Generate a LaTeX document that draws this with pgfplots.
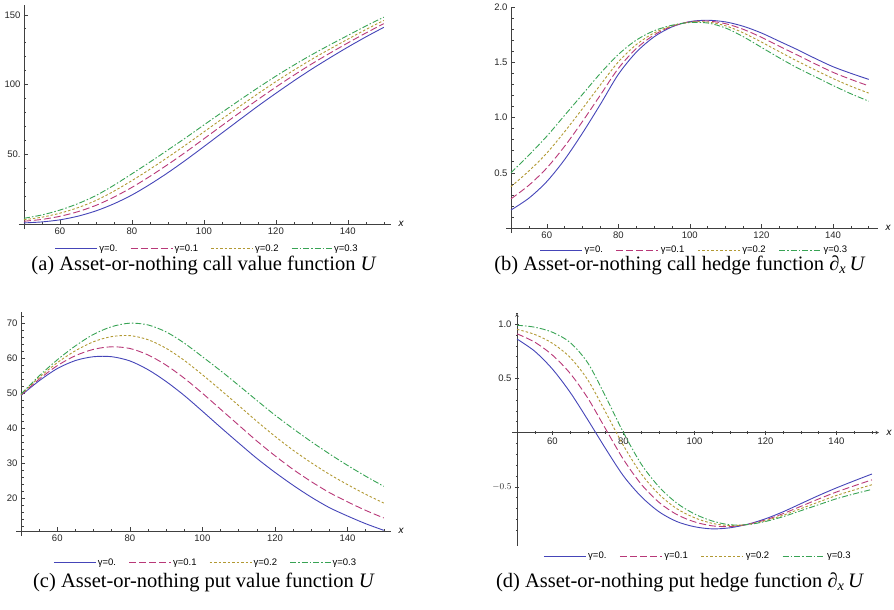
\documentclass[border=0pt]{standalone}
\usepackage{pgfplots}
\pgfplotsset{compat=1.18}
\usepackage{pgfplotstable}
\usepackage{fontspec}
\setmainfont{Liberation Sans}
\newfontfamily\capfont{Liberation Serif}
\definecolor{c1}{rgb}{0.27,0.27,0.72}
\definecolor{c2}{rgb}{0.72,0.22,0.47}
\definecolor{c3}{rgb}{0.70,0.60,0.20}
\definecolor{c4}{rgb}{0.22,0.64,0.33}

\pgfplotstableread{
x b m g r
50 0.8 1.99 3.04 4.1
55 1.5 3.3 4.9 6.5
60 3.0 5.52 7.76 10.0
65 5.6 8.84 11.72 14.6
70 9.4 13.36 16.88 20.4
75 14.5 19.29 23.54 27.8
80 20.8 26.27 31.14 36.0
85 28.4 34.16 39.28 44.4
90 36.8 42.67 47.88 53.1
95 45.9 51.66 56.78 61.9
100 55.5 61.08 66.04 71.0
105 65.2 70.53 75.26 80.0
110 74.9 79.94 84.42 88.9
115 84.5 89.22 93.41 97.6
120 93.7 98.13 102.06 106.0
125 102.6 106.67 110.28 113.9
130 111.1 114.81 118.1 121.4
135 119.1 122.45 125.42 128.4
140 126.8 129.82 132.51 135.2
145 134.1 136.91 139.4 141.9
150 141.0 143.63 145.96 148.3
}\tabA

\pgfplotstableread{
x b m g r
50 0.163 0.264 0.375 0.50
55 0.27 0.387 0.516 0.66
60 0.42 0.543 0.678 0.83
65 0.62 0.74 0.872 1.02
70 0.86 0.965 1.081 1.21
75 1.12 1.204 1.296 1.40
80 1.39 1.444 1.503 1.57
85 1.59 1.623 1.659 1.70
90 1.73 1.747 1.765 1.785
95 1.82 1.825 1.829 1.835
100 1.868 1.866 1.863 1.86
105 1.88 1.873 1.864 1.855
110 1.865 1.849 1.830 1.81
115 1.825 1.797 1.765 1.73
120 1.765 1.726 1.683 1.635
125 1.69 1.645 1.596 1.54
130 1.615 1.566 1.511 1.45
135 1.535 1.486 1.431 1.37
140 1.46 1.409 1.353 1.29
145 1.40 1.345 1.283 1.215
150 1.345 1.286 1.221 1.148
}\tabB

\pgfplotstableread{
x b m g r
50 49.4 49.53 49.67 49.8
55 53.6 54.06 54.54 55.0
60 57.1 57.93 58.78 59.6
65 59.4 60.79 62.21 63.6
70 60.5 62.61 64.79 66.9
75 60.5 63.34 66.26 69.1
80 59.3 62.86 66.54 70.1
85 56.8 61.02 65.38 69.6
90 53.4 58.09 62.91 67.6
95 49.4 54.35 59.45 64.4
100 44.9 50.05 55.35 60.5
105 40.3 45.48 50.99 56.5
110 35.8 40.92 46.53 52.3
115 31.4 36.38 42.02 48.0
120 27.4 32.16 37.73 43.8
125 23.7 28.24 33.74 39.9
130 20.3 24.75 30.16 36.2
135 17.3 21.61 26.85 32.7
140 14.9 18.96 23.89 29.4
145 12.7 16.51 21.13 26.3
150 10.8 14.33 18.61 23.4
}\tabC

\pgfplotstableread{
x b m g r
50 0.863 0.911 0.952 0.99
55 0.75 0.834 0.905 0.972
60 0.585 0.714 0.823 0.925
65 0.37 0.545 0.692 0.83
70 0.115 0.315 0.483 0.64
75 -0.15 0.032 0.186 0.33
80 -0.40 -0.248 -0.12 0.0
85 -0.59 -0.476 -0.38 -0.29
90 -0.73 -0.643 -0.569 -0.50
95 -0.82 -0.755 -0.701 -0.65
100 -0.868 -0.823 -0.785 -0.75
105 -0.888 -0.860 -0.837 -0.815
110 -0.878 -0.867 -0.858 -0.85
115 -0.845 -0.846 -0.847 -0.848
120 -0.795 -0.805 -0.813 -0.82
125 -0.73 -0.747 -0.762 -0.775
130 -0.655 -0.680 -0.701 -0.72
135 -0.58 -0.612 -0.640 -0.665
140 -0.51 -0.548 -0.580 -0.61
145 -0.445 -0.491 -0.529 -0.565
150 -0.382 -0.436 -0.481 -0.524
}\tabD

\pgfplotsset{
  mma/.style={
    scale only axis,
    axis lines=left,
    axis line style={-, black!75, line width=0.6pt, shorten <=-5pt},
    tick align=inside,
    major tick length=4pt, minor tick length=2.5pt,
    every tick/.style={black!75, line width=0.5pt},
    tick label style={font=\fontsize{9.5}{10}\selectfont, text=black!85},
    /pgf/number format/assume math mode=true,
    xtick={60,80,100,120,140},
    minor xtick={50,55,...,150},
    xlabel={\textit{x}},
    xlabel style={at={(axis description cs:1,0)}, anchor=west, xshift=4pt, font=\fontsize{10}{10}\selectfont},
    legend columns=4,
    legend style={draw=none, fill=none, font=\fontsize{9.5}{10}\selectfont,
      /tikz/every even column/.append style={column sep=11pt}},
    clip=false,
  },
  rightleg/.style={legend image code/.code={\draw[##1] (0pt,0pt) -- (42pt,0pt);}},
  sa/.style={color=c1, line width=0.9pt, smooth},
  sb/.style={color=c2, line width=0.9pt, smooth, dash pattern=on 7pt off 3pt},
  sc/.style={color=c3, line width=0.9pt, smooth, dash pattern=on 2.5pt off 2pt},
  sd/.style={color=c4, line width=0.9pt, smooth, dash pattern=on 6pt off 2pt on 1.5pt off 2pt},
}
\newcommand{\seg}[1]{\rule[-0.45pt]{#1}{0.9pt}}
\newcommand{\gp}[1]{\hspace*{#1}}
\newcommand{\dM}{\seg{7pt}\gp{3pt}}
\newcommand{\dG}{\seg{2.5pt}\gp{2pt}}
\newcommand{\dR}{\seg{6pt}\gp{2pt}\seg{1.5pt}\gp{2pt}}
\newcommand{\legimg}[2]{\addlegendimage{legend image code/.code={\node[inner sep=0pt, anchor=west] at (0pt,0pt) {\textcolor{#1}{#2}};}}}
\newcommand{\legendset}{%
  \legimg{c1}{\seg{42pt}}\addlegendentry{γ=0.}
  \legimg{c2}{\dM\dM\dM\dM\seg{2pt}}\addlegendentry{γ=0.1}
  \legimg{c3}{\dG\dG\dG\dG\dG\dG\dG\dG\dG\seg{1.5pt}}\addlegendentry{γ=0.2}
  \legimg{c4}{\dR\dR\dR\seg{6pt}}\addlegendentry{γ=0.3}
}

\begin{document}
\begin{tikzpicture}
\path[use as bounding box] (0pt,0pt) rectangle (894pt,-610pt);

% (a)
\begin{axis}[mma, at={(24pt,-224pt)}, anchor=south west,
  width=367pt, height=219pt,
  xmin=50, xmax=152, ymin=0, ymax=157,
  ytick={50,100,150}, yticklabels={50.,100,150},
  minor ytick={10,20,...,150},
  legend style={at={(axis description cs:0.5,0)}, anchor=north, yshift=-17pt}]
\addplot[sa, forget plot] table[x=x,y=b]{\tabA};
\addplot[sb, forget plot] table[x=x,y=m]{\tabA};
\addplot[sc, forget plot] table[x=x,y=g]{\tabA};
\addplot[sd, forget plot] table[x=x,y=r]{\tabA};
\legendset
\end{axis}

% (b)
\begin{axis}[mma, rightleg, at={(511pt,-228pt)}, anchor=south west,
  width=367pt, height=221pt,
  xmin=50, xmax=152.6, ymin=0, ymax=2.0,
  ytick={0.5,1.0,1.5,2.0}, yticklabels={0.5,1.0,1.5,2.0},
  minor ytick={0.1,0.2,...,2.0},
  legend style={at={(axis description cs:0.5,0)}, anchor=north, yshift=-14pt}]
\addplot[sa] table[x=x,y=b]{\tabB}; \addlegendentry{γ=0.}
\addplot[sb] table[x=x,y=m]{\tabB}; \addlegendentry{γ=0.1}
\addplot[sc] table[x=x,y=g]{\tabB}; \addlegendentry{γ=0.2}
\addplot[sd] table[x=x,y=r]{\tabB}; \addlegendentry{γ=0.3}
\end{axis}

% (c)
\begin{axis}[mma, at={(21pt,-531pt)}, anchor=south west,
  width=370pt, height=219pt,
  xmin=50, xmax=152, ymin=10.6, ymax=73.3,
  ytick={20,30,40,50,60,70},
  minor ytick={12,14,...,72},
  legend style={at={(axis description cs:0.5,0)}, anchor=north, yshift=-24pt}]
\addplot[sa, forget plot] table[x=x,y=b]{\tabC};
\addplot[sb, forget plot] table[x=x,y=m]{\tabC};
\addplot[sc, forget plot] table[x=x,y=g]{\tabC};
\addplot[sd, forget plot] table[x=x,y=r]{\tabC};
\legendset
\end{axis}

% (d)
\begin{axis}[mma, rightleg, at={(517pt,-540.7pt)}, anchor=south west,
  width=362pt, height=227.4pt,
  axis x line=middle, axis y line=left,
  xmin=50, xmax=152, ymin=-0.997, ymax=1.10,
  ytick={-0.5,0.5,1.0}, yticklabels={$-0.5$,0.5,1.0},
  minor ytick={-0.9,-0.8,...,1.1},
  xlabel style={at={(axis description cs:1,0.4754)}, anchor=west, xshift=4pt},
  legend style={at={(axis description cs:0.5,0)}, anchor=north, yshift=-7pt}]
\addplot[sa] table[x=x,y=b]{\tabD}; \addlegendentry{γ=0.}
\addplot[sb] table[x=x,y=m]{\tabD}; \addlegendentry{γ=0.1}
\addplot[sc] table[x=x,y=g]{\tabD}; \addlegendentry{γ=0.2}
\addplot[sd] table[x=x,y=r]{\tabD}; \addlegendentry{γ=0.3}
\end{axis}

\node[font=\capfont\fontsize{20.5}{23}\selectfont] at (204pt,-265pt) {(a) Asset-or-nothing call value function \textit{U}};
\node[font=\capfont\fontsize{20.5}{23}\selectfont] at (680pt,-265pt) {(b) Asset-or-nothing call hedge function \textit{∂}\textsubscript{\textit{x}}\,\textit{U}};
\node[font=\capfont\fontsize{20.5}{23}\selectfont] at (204pt,-582pt) {(c) Asset-or-nothing put value function \textit{U}};
\node[font=\capfont\fontsize{20.5}{23}\selectfont] at (680pt,-582pt) {(d) Asset-or-nothing put hedge function \textit{∂}\textsubscript{\textit{x}}\,\textit{U}};
\end{tikzpicture}
\end{document}
